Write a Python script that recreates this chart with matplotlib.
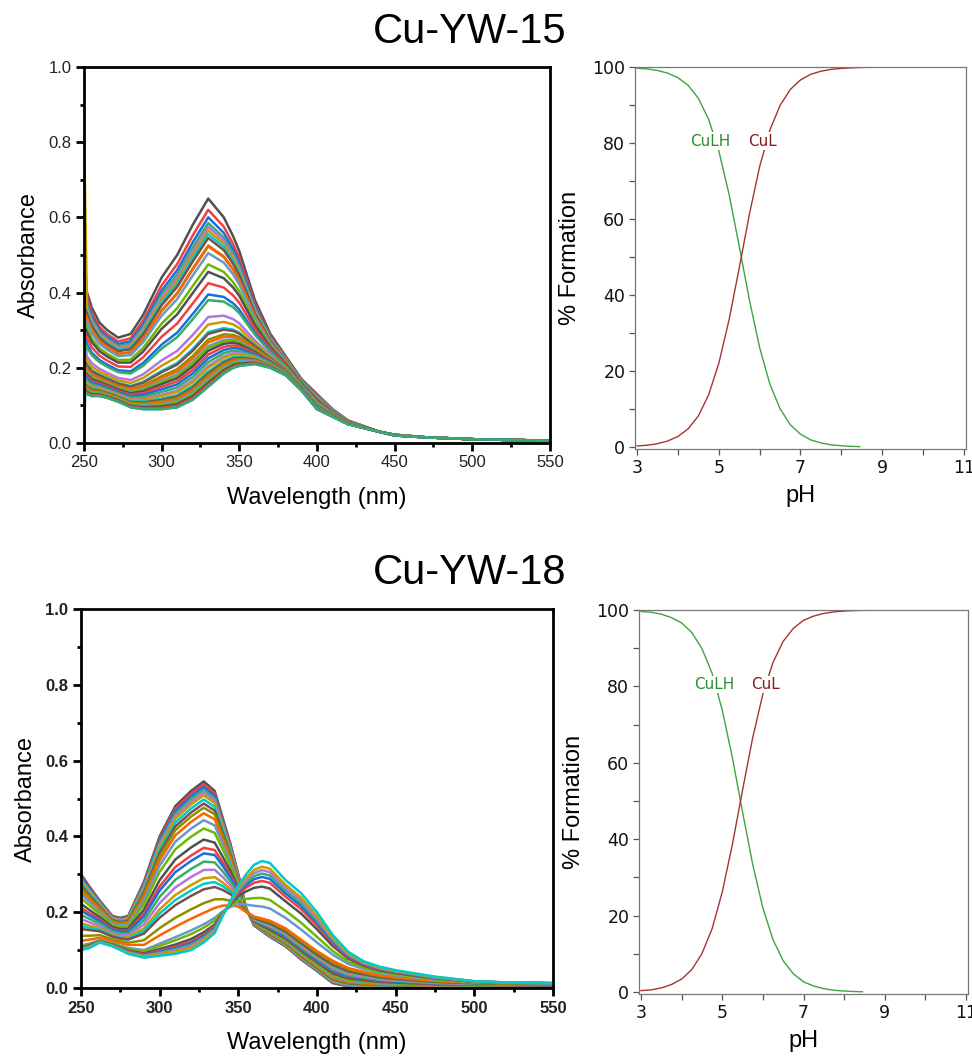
import matplotlib
matplotlib.use("Agg")
import matplotlib.pyplot as plt
import numpy as np
from matplotlib.ticker import MultipleLocator, FormatStrFormatter

# ---- UV-vis data, Cu-YW-15 (end spectra) ----
wl15 = [250, 252, 255, 260, 265, 272, 280, 288, 300, 310, 320, 330, 340, 346, 350,
        360, 370, 380, 390, 400, 410, 420, 430, 440, 450, 470, 500, 525, 550]
a15 = [.42, .40, .36, .32, .30, .28, .29, .34, .44, .50, .58, .65, .60, .55, .51,
       .38, .29, .23, .17, .13, .09, .06, .045, .03, .022, .015, .01, .008, .006]
b15 = [.14, .13, .125, .125, .12, .11, .095, .09, .09, .095, .115, .15, .185, .20, .205,
       .21, .20, .18, .14, .09, .07, .05, .04, .03, .02, .015, .01, .008, .006]
# fraction of the 330 nm species in each trace
frac15 = [1.0, .94, .90, .87, .85, .83, .81, .79, .75, .745, .71, .65, .61, .55, .49, .46,
          .37, .33, .29, .28, .25, .235, .215, .205, .19, .17, .15, .13, .11, .10, .08,
          .07, .06, .05, .04, .03, .02, .01, 0.0, 0.0]
spike15 = {5: 0.83, 1: 0.54, 2: 0.46, 10: 0.02, 6: 0.0}   # first-point spikes at 250 nm

# ---- UV-vis data, Cu-YW-18 ----
wl18 = [250, 255, 262, 270, 275, 280, 290, 300, 310, 320, 328, 335, 340, 345, 350, 355,
        360, 365, 370, 380, 390, 400, 410, 420, 430, 440, 450, 475, 500, 525, 550]
a18 = [.30, .27, .23, .19, .185, .19, .28, .40, .48, .52, .545, .52, .45, .38, .30, .21,
       .165, .15, .135, .11, .075, .045, .013, .004, .003, .003, .003, .003, .003, .003, .003]
b18 = [.10, .105, .12, .11, .10, .09, .08, .085, .09, .10, .12, .145, .19, .23, .27, .30,
       .325, .335, .33, .285, .25, .20, .14, .095, .07, .056, .047, .03, .018, .014, .013]
c18 = [.115, .12, .127, .12, .115, .11, .105, .125, .145, .165, .18, .195, .205, .21, .21, .20,
       .19, .185, .18, .16, .13, .10, .075, .055, .045, .035, .03, .02, .015, .013, .012]
wa18 = [1.0, .98, .96, .94, .92, .90, .87, .84, .81, .77, .72, .66, .58, .52, .48, .42,
        .36, .30, .26, .22, .12, .05, 0, 0, 0, 0, 0, 0, 0, 0, 0]
wb18 = [0] * 22 + [.2, .35, .55, .65, .72, .78, .84, .9, 1.0]

# ---- speciation ----
ph = [3.0, 3.25, 3.5, 3.75, 4.0, 4.25, 4.5, 4.75, 5.0, 5.25, 5.5, 5.75, 6.0, 6.25,
      6.5, 6.75, 7.0, 7.25, 7.5, 7.75, 8.0, 8.25, 8.45]
ph_cul = ph + [9.0, 10.0, 11.0]
culh15 = [99.7, 99.5, 99.1, 98.4, 97.2, 95.2, 91.8, 86.3, 78.0, 66.6, 52.9, 38.7, 26.2,
          16.6, 10.1, 5.9, 3.4, 1.9, 1.1, 0.6, 0.35, 0.2, 0.12]
cul15 = [0.3, 0.5, 0.9, 1.6, 2.8, 4.8, 8.2, 13.7, 22.0, 33.4, 47.1, 61.3, 73.8, 83.4,
         89.9, 94.1, 96.6, 98.1, 98.9, 99.4, 99.65, 99.8, 99.88, 100, 100, 100]
culh18 = [99.6, 99.4, 98.9, 98.0, 96.6, 94.1, 89.9, 83.4, 73.8, 61.3, 47.1, 33.4, 22.0,
          13.7, 8.2, 4.8, 2.7, 1.6, 0.9, 0.5, 0.28, 0.16, 0.1]
cul18 = [0.4, 0.6, 1.1, 2.0, 3.4, 5.9, 10.1, 16.6, 26.2, 38.7, 52.9, 66.6, 78.0, 86.3,
         91.8, 95.2, 97.3, 98.4, 99.1, 99.5, 99.72, 99.84, 99.9, 100, 100, 100]

origin_colors = ["#515151", "#F14040", "#1A6FDF", "#37AD6B", "#B177DE", "#CC9900",
                 "#00CBCC", "#7D4E4E", "#8E8E00", "#FB6501", "#6699CC", "#6FB802"]

fig = plt.figure(figsize=(9.72, 10.61), dpi=100)


def spectra_axes(rect, bold):
    ax = fig.add_axes(rect)
    ax.set_xlim(250, 550)
    ax.set_ylim(0, 1.0)
    ax.xaxis.set_major_locator(MultipleLocator(50))
    ax.xaxis.set_minor_locator(MultipleLocator(25))
    ax.yaxis.set_major_locator(MultipleLocator(0.2))
    ax.yaxis.set_minor_locator(MultipleLocator(0.1))
    ax.yaxis.set_major_formatter(FormatStrFormatter("%.1f"))
    for s in ax.spines.values():
        s.set_linewidth(2.0)
        s.set_color("black")
    ax.tick_params(which="major", direction="out", length=6, width=2, labelsize=12, pad=3)
    ax.tick_params(which="minor", direction="out", length=3, width=2)
    for lab in ax.get_xticklabels() + ax.get_yticklabels():
        lab.set_fontfamily("Liberation Sans")
        lab.set_fontweight("bold" if bold else "normal")
        lab.set_color("#222222")
    ax.set_xlabel("Wavelength (nm)", fontsize=17, family="Liberation Sans", labelpad=12)
    ax.set_ylabel("Absorbance", fontsize=17, family="Liberation Sans", labelpad=6)
    return ax


def species_axes(rect, culh, cul):
    ax = fig.add_axes(rect)
    ax.plot(ph, culh, color="#3fa33f", lw=1.0)
    ax.plot(ph_cul, cul, color="#a83232", lw=1.0)
    ax.set_xlim(2.95, 11.05)
    ax.set_ylim(-0.5, 100)
    ax.set_xticks([3, 5, 7, 9, 11])
    ax.xaxis.set_minor_locator(MultipleLocator(1))
    ax.yaxis.set_major_locator(MultipleLocator(20))
    ax.yaxis.set_minor_locator(MultipleLocator(10))
    for s in ax.spines.values():
        s.set_linewidth(0.9)
        s.set_color("#777777")
    ax.tick_params(which="both", direction="out", color="#555555", width=0.9)
    ax.tick_params(which="major", length=4, labelsize=12.5, pad=3)
    ax.tick_params(which="minor", length=4)
    for lab in ax.get_xticklabels() + ax.get_yticklabels():
        lab.set_fontfamily("DejaVu Sans")
        lab.set_color("#111111")
    ax.text(4.8, 80.5, "CuLH", color="#2e8b2e", fontsize=11, ha="center", va="center",
            bbox=dict(facecolor="white", edgecolor="none", pad=1))
    ax.text(6.07, 80.5, "CuL", color="#8b1a1a", fontsize=11, ha="center", va="center",
            bbox=dict(facecolor="white", edgecolor="none", pad=1))
    ax.set_xlabel("pH", fontsize=17, family="Liberation Sans", labelpad=6)
    ax.set_ylabel("% Formation", fontsize=17, family="Liberation Sans", labelpad=8)
    return ax


# --- Cu-YW-15 ---
ax1 = spectra_axes([0.0864, 0.5825, 0.4794, 0.3544], bold=False)
A = np.array(a15)
B = np.array(b15)
for i, f in enumerate(frac15):
    y = f * A + (1 - f) * B
    if i in spike15:
        y[0] = spike15[i]
    ax1.plot(wl15, y, color=origin_colors[i % 12], lw=1.8)
ax2 = species_axes([0.6533, 0.5768, 0.3405, 0.3600], culh15, cul15)

# --- Cu-YW-18 ---
ax3 = spectra_axes([0.0833, 0.0688, 0.4856, 0.3572], bold=True)
A = np.array(a18)
B = np.array(b18)
C = np.array(c18)
for i, (wa, wb) in enumerate(zip(wa18, wb18)):
    y = wa * A + wb * B + (1 - wa - wb) * C
    ax3.plot(wl18, y, color=origin_colors[i % 12], lw=1.8)
ax4 = species_axes([0.6574, 0.0631, 0.3385, 0.3620], culh18, cul18)

fig.text(0.4835, 0.9695, "Cu-YW-15", fontsize=30, family="Liberation Sans", ha="center", va="center")
fig.text(0.4835, 0.4600, "Cu-YW-18", fontsize=30, family="Liberation Sans", ha="center", va="center")

fig.savefig("out.png", dpi=100)
